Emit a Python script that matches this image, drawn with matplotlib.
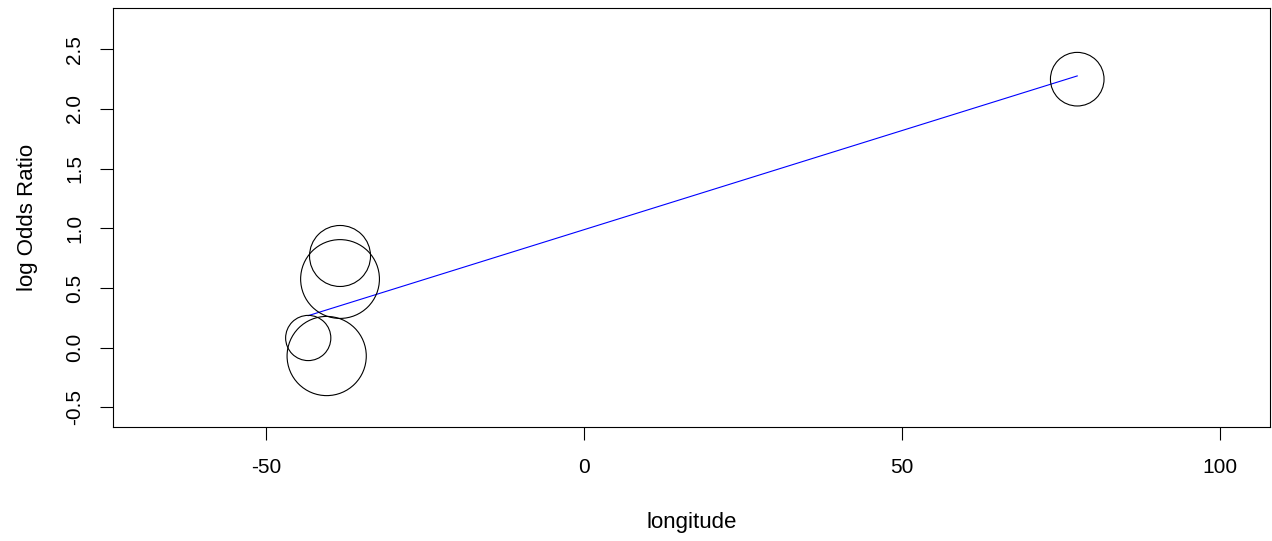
#!/usr/bin/env python

import numpy as np
import matplotlib.pyplot as plt

# study data
longitude = np.array([77.5, -38.4, -38.4, -43.4, -40.5])
log_or    = np.array([2.249, 0.768, 0.575, 0.081, -0.070])
psize     = np.array([26.8, 30.5, 39.4, 22.6, 39.6])   # bubble radius, px

# meta-regression fit
intercept = 0.989
slope     = 0.01661

plt.rcParams['font.family'] = ['Liberation Sans', 'DejaVu Sans']
plt.rcParams['axes.unicode_minus'] = False

fig = plt.figure(figsize=(12.72, 5.41), dpi=100)
ax = fig.add_axes([0.0888, 0.2113, 0.9096, 0.7734])

# radius px -> marker area in pt^2
s = (2 * psize * 72 / fig.dpi) ** 2
ax.scatter(longitude, log_or, s=s, facecolors='none', edgecolors='black',
           linewidths=0.8, zorder=2)

xs = np.array([longitude.min(), longitude.max()])
ax.plot(xs, intercept + slope * xs, color='blue', linewidth=0.8, zorder=1)

ax.set_xlim(-74.1, 107.8)
ax.set_ylim(-0.662, 2.843)
ax.set_xticks([-50, 0, 50, 100])
ax.set_yticks([-0.5, 0.0, 0.5, 1.0, 1.5, 2.0, 2.5])
ax.set_yticklabels(['-0.5', '0.0', '0.5', '1.0', '1.5', '2.0', '2.5'],
                   rotation=90, va='center')
ax.tick_params(length=9.5, width=0.8, labelsize=15)
ax.tick_params(axis='x', pad=13)
ax.tick_params(axis='y', pad=11)
for sp in ax.spines.values():
    sp.set_linewidth(0.8)

ax.set_xlabel('longitude', fontsize=16, labelpad=25)
ax.set_ylabel('log Odds Ratio', fontsize=16, labelpad=20)

plt.savefig('out.png')
